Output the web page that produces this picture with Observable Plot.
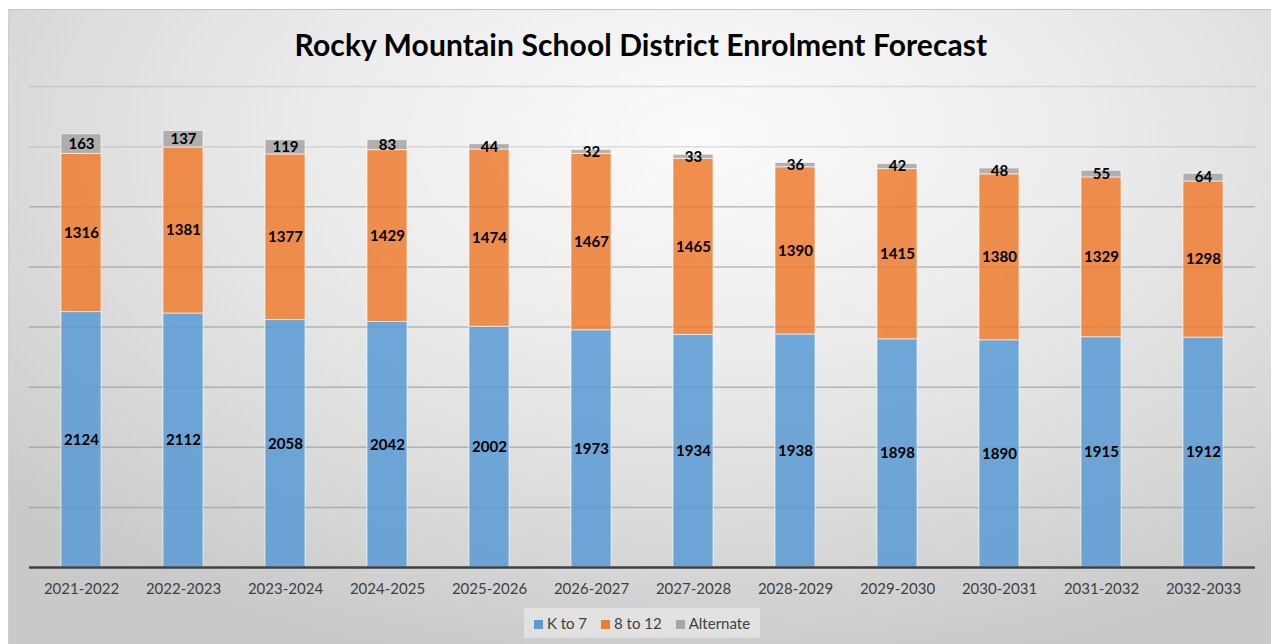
<!DOCTYPE html>
<html>
<head>
<meta charset="utf-8">
<script src="https://cdn.jsdelivr.net/npm/d3@7"></script>
<script src="https://cdn.jsdelivr.net/npm/@observablehq/plot@0.6"></script>
<style>
  html, body { margin: 0; padding: 0; background: #fff; }
  #wrap { position: relative; width: 1271px; height: 644px; overflow: hidden; font-family: Lato, "Open Sans", sans-serif; }
  #frame { position: absolute; left: 8px; top: 9px; right: 0; bottom: 0;
    border-top: 1px solid #c4c4c4; border-left: 1px solid #cfcfcf;
    background: radial-gradient(ellipse 75% 85% at 55% 20%, #fbfbfb 0%, #ececec 40%, #d9d9d9 75%, #c9c9c9 100%); }
  #title { position: absolute; left: 0; width: 1282px; top: 26px; text-align: center;
    font-size: 30px; font-weight: bold; color: #000; margin: 0; letter-spacing: 0.1px; }
  #chart { position: absolute; left: 0; top: 0; }
  #legend { position: absolute; left: 524px; top: 608px; width: 236px; height: 30px;
    background: rgba(240,240,240,0.55); display: flex; align-items: center; justify-content: center; gap: 14px;
    font-size: 15px; color: #404040; }
  #legend span.sw { display: inline-block; width: 9px; height: 9px; margin-right: 4px; vertical-align: 0px; }
</style>
</head>
<body>
<div id="wrap">
  <div id="frame"></div>
  <div id="chart"></div>
  <div id="title">Rocky Mountain School District Enrolment Forecast</div>
  <div id="legend"></div>
</div>
<script>
const years = ["2021-2022","2022-2023","2023-2024","2024-2025","2025-2026","2026-2027","2027-2028","2028-2029","2029-2030","2030-2031","2031-2032","2032-2033"];
const kTo7 = [2124, 2112, 2058, 2042, 2002, 1973, 1934, 1938, 1898, 1890, 1915, 1912];
const eightTo12 = [1316, 1381, 1377, 1429, 1474, 1467, 1465, 1390, 1415, 1380, 1329, 1298];
const alternate = [163, 137, 119, 83, 44, 32, 33, 36, 42, 48, 55, 64];
const seriesNames = ["K to 7", "8 to 12", "Alternate"];
const seriesColors = ["#5b9bd5", "#ed7d31", "#a5a5a5"];
const gridValues = [500, 1000, 1500, 2000, 2500, 3000, 3500, 4000];

const seriesValues = [kTo7, eightTo12, alternate];
const data = [];
seriesNames.forEach((s, si) => {
  years.forEach((y, i) => data.push({year: y, series: s, value: seriesValues[si][i]}));
});

const chart = Plot.plot({
  width: 1271,
  height: 644,
  marginTop: 86,
  marginBottom: 77,
  marginLeft: 29,
  marginRight: 16,
  style: {background: "transparent", fontFamily: "Lato, 'Open Sans', sans-serif"},
  x: {domain: years, paddingInner: 0.61, paddingOuter: 0.305, label: null},
  y: {domain: [0, 4000], axis: null},
  color: {domain: seriesNames, range: seriesColors},
  marks: [
    Plot.ruleY(gridValues, {stroke: "#8c8c8c", strokeOpacity: d => d >= 3500 ? 0.25 : 0.55, strokeWidth: 1.5}),
    Plot.barY(data, Plot.stackY({x: "year", y: "value", z: "series", fill: "series", fillOpacity: 0.86, stroke: "#ffffff", strokeOpacity: 0.6, strokeWidth: 1})),
    Plot.ruleY([0], {stroke: "#404040", strokeWidth: 2.5}),
    Plot.text(data, Plot.stackY({x: "year", y: "value", z: "series", text: d => String(d.value), fontWeight: "bold", fontSize: 15, fill: "#000"})),
    Plot.axisX({tickSize: 0, tickPadding: 16, fontSize: 15, color: "#404040", label: null})
  ]
});
document.getElementById("chart").appendChild(chart);

const legend = document.getElementById("legend");
seriesNames.forEach((s, i) => {
  const item = document.createElement("div");
  item.innerHTML = `<span class="sw" style="background:${seriesColors[i]}"></span>${s}`;
  legend.appendChild(item);
});
</script>
</body>
</html>
